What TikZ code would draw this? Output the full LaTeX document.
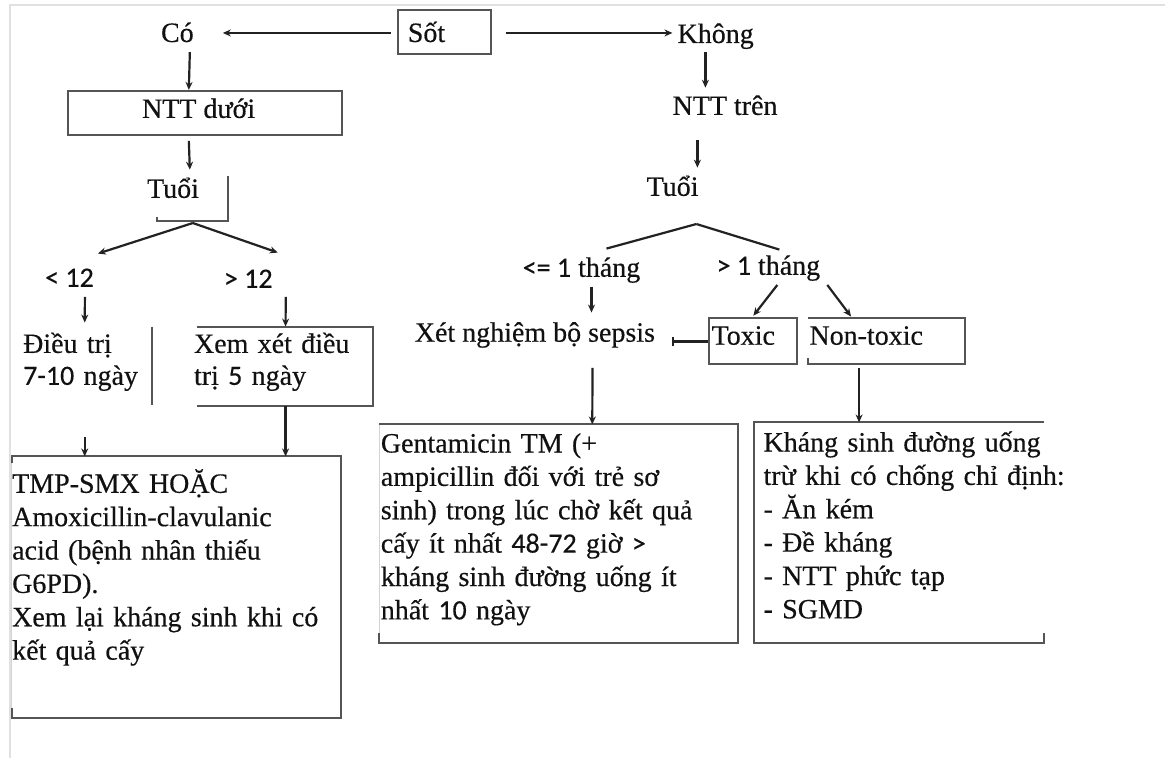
\documentclass[tikz,border=0pt]{standalone}
\usepackage{fontspec}
\setmainfont{Liberation Serif}
\newfontfamily\bodyserif{Liberation Serif}[FakeBold=0.4]
\newfontfamily\numfont{Carlito}[FakeBold=0.3]
\usetikzlibrary{arrows.meta,fit,calc}
\definecolor{ink}{HTML}{111111}
\definecolor{frame}{HTML}{555555}
\definecolor{faint}{HTML}{D4D4D4}
\definecolor{wire}{HTML}{222222}
\definecolor{pageline}{HTML}{E0E0E0}
% digits and comparison signs are set in a sans face
\newcommand\nm[1]{{\numfont\fontsize{28}{33.4}\selectfont #1}}
\newcommand\firstline{\rule{0pt}{30pt}}
\newcommand\bodyfont{\bodyserif\fontsize{28}{33.4}\selectfont}
\newcommand\bodyfonttight{\bodyserif\fontsize{28}{32}\selectfont}

\begin{document}
\lineskiplimit=-30pt
\begin{tikzpicture}[x=1pt,y=-1pt,
  lbl/.style={inner sep=0pt, anchor=base west, text=ink,
    text height=21pt, text depth=7pt, font=\bodyfont},
  para/.style={inner sep=0pt, anchor=north west, text=ink, align=left,
    text width=#1, font=\bodyfont},
  para2/.style={inner sep=0pt, anchor=north west, text=ink, align=left,
    text width=#1, font=\bodyfonttight},
  area/.style={inner sep=0pt},
  frm/.style={draw=frame, line width=2pt},
  faintfrm/.style={draw=faint, line width=1.2pt},
  wireline/.style={draw=wire, line width=2.2pt},
  arr/.style={wireline, -{Stealth[length=8pt,width=7pt]}},
]
% canvas and page edges
\fill[white] (0,0) rectangle (1166,759);
\draw[pageline, line width=2pt] (10,759) -- (10,5) -- (1166,5);

% ---------- box outlines ----------
\node[area, fit={(398,10) (491,54)}, frm] (sotbox) {};
\node[area, fit={(68,91) (342,135)}, frm] (nttduoi) {};
\node[area, fit={(157,176) (228,221)}] (tuoiLbox) {};
\node[area, fit={(12,327) (152,405)}] (dieutri) {};
\node[area, fit={(197,327) (373,406)}] (xemxet) {};
\node[area, fit={(12,457) (341,718)}] (leftbig) {};
\node[area, fit={(710,318) (798,364)}, frm] (toxicbox) {};
\node[area, fit={(809,318) (966,364)}] (nontoxbox) {};
\node[area, fit={(380,425) (738,643)}] (genta) {};
\node[area, fit={(755,423) (1045,643)}] (khang) {};

\draw[faintfrm] (leftbig.north west) -- (leftbig.south west);
\draw[faintfrm] (genta.north west) -- (genta.south west);

\draw[frm] ($(tuoiLbox.south west)+(0,-4)$) -- (tuoiLbox.south west)
  -- (tuoiLbox.south east) -- (tuoiLbox.north east);
\draw[frm] (dieutri.north east) -- (dieutri.south east);
\draw[frm] (xemxet.north west) -- (xemxet.north east)
  -- (xemxet.south east) -- (xemxet.south west);
\draw[frm] ($(leftbig.north west)+(0,7)$) -- (leftbig.north west)
  -- (leftbig.north east) -- (leftbig.south east) -- (leftbig.south west)
  -- ($(leftbig.south west)+(0,-10)$);
\draw[frm] (nontoxbox.north west) -- (nontoxbox.north east)
  -- (nontoxbox.south east) -- (nontoxbox.south west)
  -- ($(nontoxbox.south west)+(0,-6)$);
\draw[frm] ($(genta.south west)+(0,-10)$) -- (genta.south west)
  -- (genta.south east) -- (genta.north east) -- (genta.north west);
\draw[frm] (khang.north east) -- (khang.north west) -- (khang.south west)
  -- (khang.south east) -- ($(khang.south east)+(0,-10)$);

% ---------- texts ----------
\node[lbl] (sot) at (408,42) {Sốt};
\node[lbl] (co) at (161,42) {Có};
\node[lbl] (khong) at (678,43) {Không};
\node[lbl] (nttduoitxt) at (142,118) {NTT dưới};
\node[lbl] (ntttren) at (673,115) {NTT trên};
\node[lbl] (tuoiL) at (147,198) {Tuổi};
\node[lbl] (tuoiR) at (647,196) {Tuổi};
\node[lbl] (lt12) at (45,287) {\nm{< 12}};
\node[lbl] (gt12) at (224,288) {\nm{> 12}};
\node[lbl] (le1) at (523,277) {\nm{<= 1} tháng};
\node[lbl] (gt1) at (717,275) {\nm{> 1} tháng};
\node[lbl] (xet) at (415,342) {Xét nghiệm bộ sepsis};
\node[lbl] (toxic) at (712,345) {Toxic};
\node[lbl] (nontoxic) at (810,345) {Non-toxic};

\node[para2=170pt] (dieutritxt) at (23,323)
  {\firstline Điều trị\\ \nm{7-10} ngày};
\node[para2=220pt] (xemxettxt) at (194,323)
  {\firstline Xem xét điều\\ trị \nm{5} ngày};
\node[para=420pt] (leftbigtxt) at (12,463)
  {\firstline TMP-SMX HOẶC\\ Amoxicillin-clavulanic\\ acid (bệnh nhân thiếu\\ G6PD).\\ Xem lại kháng sinh khi có\\ kết quả cấy};
\node[para=420pt] (gentatxt) at (381,422.7)
  {\firstline Gentamicin TM (+\\ ampicillin đối với trẻ sơ\\ sinh) trong lúc chờ kết quả\\ cấy ít nhất \nm{48-72} giờ \nm{>}\\ kháng sinh đường uống ít\\ nhất \nm{10} ngày};
\node[para=390pt] (khangtxt) at (764,421.7)
  {\firstline Kháng sinh đường uống\\ trừ khi có chống chỉ định:\\ - Ăn kém\\ - Đề kháng\\ - NTT phức tạp\\ - SGMD};

% ---------- connectors ----------
\draw[arr] ($(sotbox.west)+(-6,1)$) -- ($(co.west)+(62,-2)$);
\draw[arr] ($(sotbox.east)+(14,1)$) -- ($(khong.west)+(-5,-3)$);
\draw[arr] ($(co.south west)+(29,3)$) -- ($(nttduoi.north west)+(122,0)$);
\draw[arr] ($(nttduoi.south west)+(122,5)$) -- ($(tuoiL.north west)+(43,-7)$);

\coordinate (forkL) at ($(tuoiLbox.south)+(0.5,2)$);
\draw[arr] (forkL) -- ($(lt12.north west)+(53,-12)$);
\draw[arr] (forkL) -- ($(gt12.north west)+(54,-14)$);
\draw[arr] ($(lt12.south west)+(40,3)$) -- ($(dieutri.north west)+(73,-4)$);
\draw[arr] ($(gt12.south west)+(62,2)$) -- ($(xemxet.north west)+(89,0)$);
\draw[arr] ($(dieutri.south west)+(73,32)$) -- ($(leftbig.north west)+(73,0)$);
\draw[arr] ($(xemxet.south west)+(89,0)$) -- ($(leftbig.north west)+(274,0)$);

\draw[arr] ($(khong.south west)+(28,2)$) -- ($(ntttren.north west)+(33,-6)$);
\draw[arr] ($(ntttren.south west)+(25,18)$) -- ($(tuoiR.north west)+(51,-7)$);
\coordinate (forkR) at ($(tuoiR.south west)+(50,21)$);
\draw[wireline] (forkR) -- ($(le1.north west)+(84,-7)$);
\draw[wireline] (forkR) -- ($(gt1.north west)+(63,-4)$);
\draw[arr] ($(le1.south west)+(69,3)$) -- ($(xet.north west)+(177,-8)$);
\draw[arr] ($(gt1.south west)+(61,3)$) -- ($(toxicbox.north west)+(45,-1)$);
\draw[arr] ($(gt1.south west)+(111,3)$) -- ($(nontoxbox.north west)+(43,-1)$);
\draw[wire, line width=3.5pt, -{Bar[width=9pt,line width=2pt]}]
  ($(toxicbox.west)+(0,1)$) -- ($(xet.base west)+(258,0)$);
\draw[arr] ($(xet.south west)+(178,19)$) -- ($(genta.north west)+(213,0)$);
\draw[arr] ($(nontoxbox.south west)+(51,4)$) -- ($(khang.north west)+(105,0)$);
\end{tikzpicture}
\end{document}
